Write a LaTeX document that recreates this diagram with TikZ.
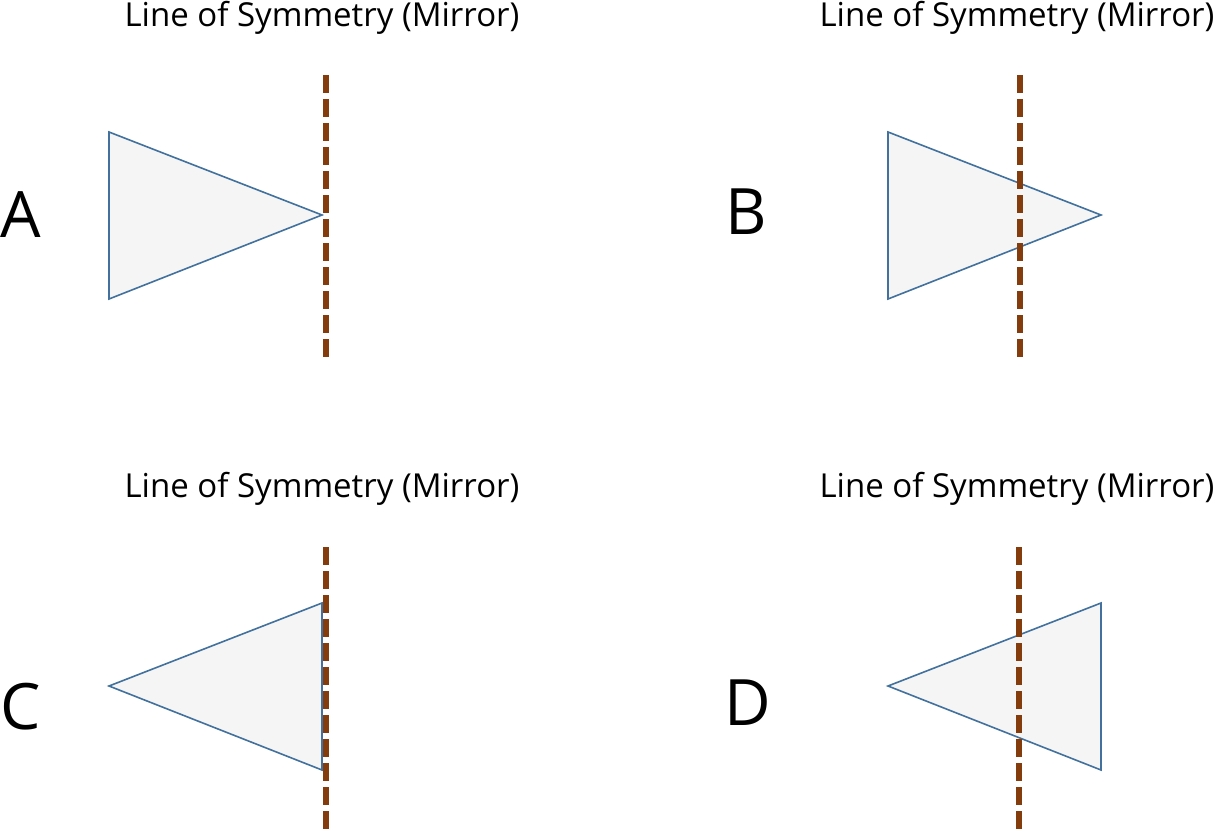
\documentclass[tikz,border=0pt]{standalone}
\usepackage{fontspec}
\setmainfont{Open Sans}
\usepackage{tikz}
\definecolor{mirrorbrown}{HTML}{843C0C}
\definecolor{triblue}{HTML}{41719C}
\definecolor{trifill}{HTML}{F5F5F5}
\tikzset{
    mirror/.style={mirrorbrown, line width=6pt, dash pattern=on 18pt off 6pt},
    tri/.style={triblue, line width=1.6pt, fill=trifill, line join=miter},
    caption/.style={anchor=base, inner sep=0pt, font=\fontsize{33}{38}\selectfont},
    letter/.style={inner sep=0pt, font=\fontsize{64}{70}\selectfont}
}

\begin{document}
\begin{tikzpicture}[x=1pt, y=-1pt]
                \useasboundingbox (0,0) rectangle (1214,829);

                % top left
                \node[caption] (capA) at (322,27) {Line of Symmetry (Mirror)};
                \node[letter] (labA) at (21,215) {A};
                \draw[tri] (109,132) -- (322,215) -- (109,299) -- cycle;
                \coordinate (mA1) at (326,75);
                \coordinate (mA2) at (326,357);
                \draw[mirror] (mA1) -- (mA2);

                % top right
                \node[caption] (capB) at (1017,27) {Line of Symmetry (Mirror)};
                \node[letter] (labB) at (746,212) {B};
                \draw[tri] (888,132) -- (1101,215) -- (888,299) -- cycle;
                \coordinate (mB1) at (1020,75);
                \coordinate (mB2) at (1020,357);
                \draw[mirror] (mB1) -- (mB2);

                % bottom left
                \node[caption] (capC) at (322,497) {Line of Symmetry (Mirror)};
                \node[letter] (labC) at (21,707) {C};
                \draw[tri] (322,603) -- (109,686) -- (322,770) -- cycle;
                \coordinate (mC1) at (326,547);
                \coordinate (mC2) at (326,829);
                \draw[mirror] (mC1) -- (mC2);

                % bottom right
                \node[caption] (capD) at (1017,497) {Line of Symmetry (Mirror)};
                \node[letter] (labD) at (748,703) {D};
                \draw[tri] (1101,603) -- (888,686) -- (1101,770) -- cycle;
                \coordinate (mD1) at (1019,547);
                \coordinate (mD2) at (1019,829);
                \draw[mirror] (mD1) -- (mD2);
\end{tikzpicture}
\end{document}
